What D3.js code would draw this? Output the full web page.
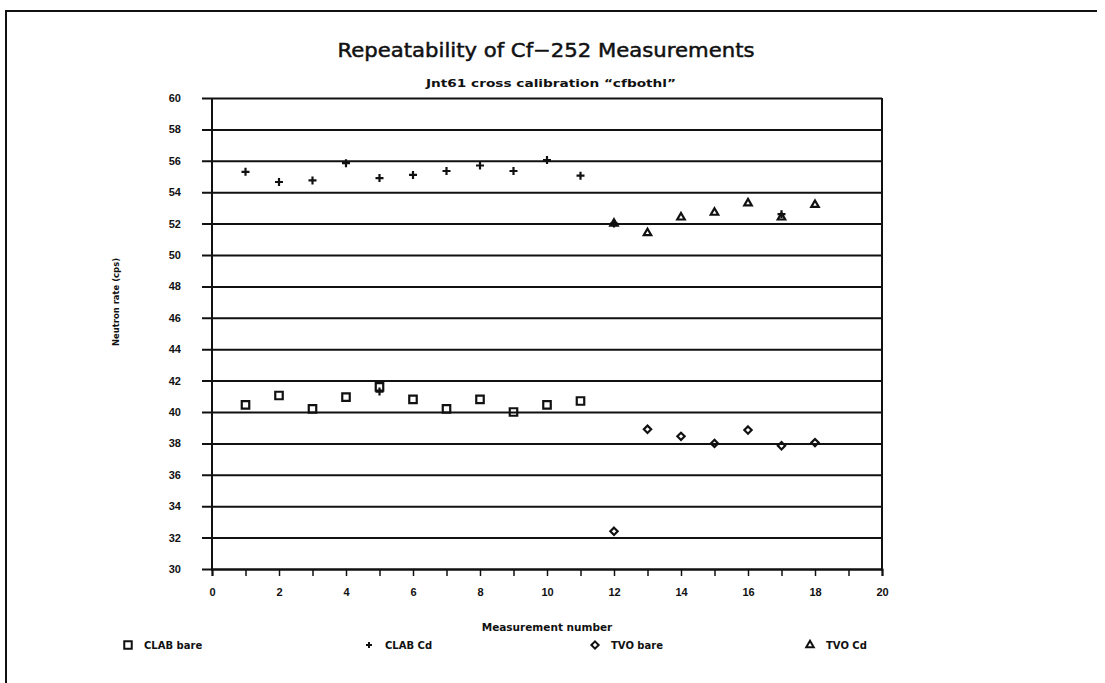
<!DOCTYPE html>
<html>
<head>
<meta charset="utf-8">
<script src="https://cdn.jsdelivr.net/npm/d3@7"></script>
<style>
  html, body { margin: 0; padding: 0; background: #fff; }
  svg { display: block; }
</style>
</head>
<body>
<svg id="chart" width="1105" height="683"></svg>
<script>
// ---------------- data ----------------
const title = "Repeatability of Cf\u2212252 Measurements";
const subtitle = "Jnt61 cross calibration \u201Ccfbothl\u201D";
const xLabel = "Measurement number";
const yLabel = "Neutron rate (cps)";

const xTicks = [0, 2, 4, 6, 8, 10, 12, 14, 16, 18, 20];
const yTicks = [30, 32, 34, 36, 38, 40, 42, 44, 46, 48, 50, 52, 54, 56, 58, 60];

const clabBareX = [1, 2, 3, 4, 5, 6, 7, 8, 9, 10, 11];
const clabBareY = [40.45, 41.05, 40.2, 40.95, 41.6, 40.8, 40.2, 40.8, 40.0, 40.45, 40.7];

const clabCdX = [1, 2, 3, 4, 5, 6, 7, 8, 9, 10, 11, 5, 12, 17];
const clabCdY = [55.3, 54.65, 54.75, 55.85, 54.9, 55.1, 55.35, 55.7, 55.35, 56.05, 55.05, 41.3, 52.0, 52.6];

const tvoBareX = [12, 13, 14, 15, 16, 17, 18];
const tvoBareY = [32.4, 38.9, 38.45, 38.0, 38.85, 37.85, 38.05];

const tvoCdX = [12, 13, 14, 15, 16, 17, 18];
const tvoCdY = [52.0, 51.4, 52.4, 52.7, 53.3, 52.4, 53.2];

const legendNames = ["CLAB bare", "CLAB Cd", "TVO bare", "TVO Cd"];

// ---------------- layout ----------------
const svg = d3.select("#chart");
const x = d3.scaleLinear().domain([0, 20]).range([212, 882]);
const y = d3.scaleLinear().domain([30, 60]).range([569, 98]);

const ink = "#111";

// outer frame (left + top)
svg.append("path")
  .attr("d", "M6,683 L6,11 L1097,11")
  .attr("fill", "none").attr("stroke", ink).attr("stroke-width", 2);

// title
svg.append("text")
  .attr("x", 546).attr("y", 57)
  .attr("text-anchor", "middle")
  .attr("font-family", "DejaVu Sans, sans-serif")
  .attr("font-size", 20)
  .attr("fill", ink).attr("stroke", ink).attr("stroke-width", 0.5)
  .attr("textLength", 417).attr("lengthAdjust", "spacingAndGlyphs")
  .text(title);

svg.append("text")
  .attr("x", 551).attr("y", 87)
  .attr("text-anchor", "middle")
  .attr("font-family", "DejaVu Sans, sans-serif")
  .attr("font-weight", "bold")
  .attr("font-size", 10.5)
  .attr("fill", ink)
  .attr("textLength", 250).attr("lengthAdjust", "spacingAndGlyphs")
  .text(subtitle);

// horizontal grid lines
const yAxisG = svg.append("g").attr("transform", `translate(${x(0)},0)`)
  .call(d3.axisLeft(y).tickValues(yTicks).tickSize(10).tickPadding(21).tickFormat(d3.format("d")));
yAxisG.select(".domain").remove();
yAxisG.selectAll(".tick line").attr("stroke", ink).attr("stroke-width", 2)
  .attr("x1", -10).attr("x2", x(20) - x(0));
yAxisG.selectAll(".tick text")
  .attr("font-family", "Liberation Sans, Arial, sans-serif")
  .attr("font-weight", "bold").attr("font-size", 11).attr("fill", ink);

// left axis line and right border
svg.append("line").attr("x1", x(0)).attr("x2", x(0)).attr("y1", y(60)).attr("y2", y(30) + 2)
  .attr("stroke", ink).attr("stroke-width", 2);
svg.append("line").attr("x1", x(20)).attr("x2", x(20)).attr("y1", y(60)).attr("y2", y(30) + 2)
  .attr("stroke", ink).attr("stroke-width", 2);

// x axis
const xAxisG = svg.append("g").attr("transform", `translate(0,${y(30)})`)
  .call(d3.axisBottom(x).ticks(20).tickSize(7).tickPadding(12)
    .tickFormat(d => (xTicks.includes(d) ? d : "")));
xAxisG.select(".domain").attr("stroke", ink).attr("stroke-width", 2);
xAxisG.selectAll(".tick line").attr("stroke", ink).attr("stroke-width", 1.5);
xAxisG.selectAll(".tick text")
  .attr("font-family", "Liberation Sans, Arial, sans-serif")
  .attr("font-weight", "bold").attr("font-size", 11).attr("fill", ink);

// axis titles
svg.append("text")
  .attr("x", x(10)).attr("y", 631)
  .attr("text-anchor", "middle")
  .attr("font-family", "DejaVu Sans, sans-serif")
  .attr("font-weight", "bold").attr("font-size", 10.5).attr("fill", ink)
  .text(xLabel);

svg.append("text")
  .attr("transform", `translate(119,${302}) rotate(-90)`)
  .attr("text-anchor", "middle")
  .attr("font-family", "DejaVu Sans, sans-serif")
  .attr("font-weight", "bold").attr("font-size", 9).attr("fill", ink)
  .attr("textLength", 88).attr("lengthAdjust", "spacingAndGlyphs")
  .text(yLabel);

// ---------------- markers ----------------
const sym = {
  square: d3.symbol().type(d3.symbolSquare).size(56),
  diamond: d3.symbol().type(d3.symbolDiamond2).size(34),
  triangle: d3.symbol().type(d3.symbolTriangle2).size(40)
};

function plusPath(s) {
  return `M${-s},0L${s},0M0,${-s}L0,${s}`;
}

function drawSeries(xs, ys, kind) {
  const g = svg.append("g");
  const pts = xs.map((d, i) => [d, ys[i]]);
  const sel = g.selectAll("path").data(pts).join("path")
    .attr("transform", d => `translate(${x(d[0])},${y(d[1])})`)
    .attr("fill", "none").attr("stroke", ink).attr("stroke-width", 2.2);
  if (kind === "plus") sel.attr("d", plusPath(4));
  else sel.attr("d", sym[kind]());
}

drawSeries(clabBareX, clabBareY, "square");
drawSeries(clabCdX, clabCdY, "plus");
drawSeries(tvoBareX, tvoBareY, "diamond");
drawSeries(tvoCdX, tvoCdY, "triangle");

// ---------------- legend ----------------
const legendKinds = ["square", "plus", "diamond", "triangle"];
const legendX = [128, 369, 595, 810];
const lg = svg.append("g");
legendNames.forEach((name, i) => {
  const p = lg.append("path")
    .attr("transform", `translate(${legendX[i]},645)`)
    .attr("fill", "none").attr("stroke", ink).attr("stroke-width", 2);
  if (legendKinds[i] === "plus") p.attr("d", plusPath(3));
  else p.attr("d", sym[legendKinds[i]]());
  lg.append("text")
    .attr("x", legendX[i] + 16).attr("y", 649)
    .attr("font-family", "DejaVu Sans, sans-serif")
    .attr("font-weight", "bold").attr("font-size", 10).attr("fill", ink)
    .text(name);
});
</script>
</body>
</html>
